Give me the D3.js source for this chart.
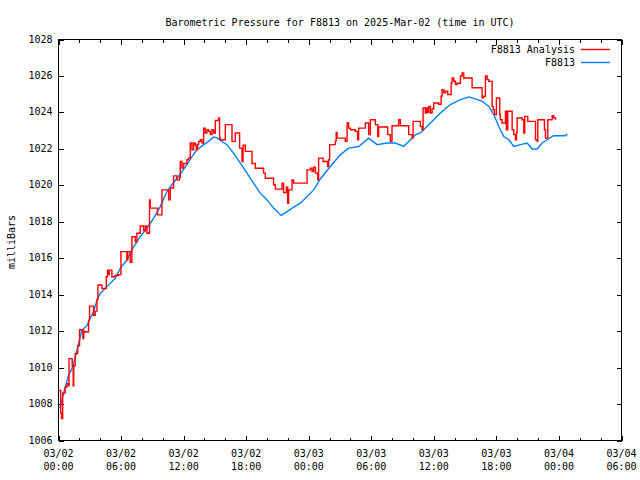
<!DOCTYPE html>
<html>
<head>
<meta charset="utf-8">
<script src="https://cdn.jsdelivr.net/npm/d3@7"></script>
<style>
  html, body { margin: 0; padding: 0; background: #fff; }
  text { font-family: "DejaVu Sans Mono", "Liberation Mono", monospace; font-size: 10px; fill: #000; }
</style>
</head>
<body>
<svg id="chart" width="640" height="480"></svg>
<script>
// ---- data (hours since 2025-03-02 00:00 UTC, millibars) ----
const titleText = "Barometric Pressure for F8813 on 2025-Mar-02 (time in UTC)";
const yLabel = "milliBars";
const seriesNames = ["F8813 Analysis", "F8813"];

const xTickHours = [0, 6, 12, 18, 24, 30, 36, 42, 48, 54];
const xTickDates = ["03/02", "03/02", "03/02", "03/02", "03/03", "03/03", "03/03", "03/03", "03/04", "03/04"];
const xTickTimes = ["00:00", "06:00", "12:00", "18:00", "00:00", "06:00", "12:00", "18:00", "00:00", "06:00"];
const yTicks = [1006, 1008, 1010, 1012, 1014, 1016, 1018, 1020, 1022, 1024, 1026, 1028];

const analysisHours = [0.00,0.21,0.29,0.40,0.64,0.81,0.96,1.01,1.31,1.41,1.46,1.60,1.84,2.02,2.34,2.42,2.56,2.88,2.98,3.36,
  3.52,3.69,3.78,4.17,4.58,4.70,4.82,4.87,5.12,5.44,5.76,5.99,6.56,6.64,6.88,7.04,7.36,7.52,7.84,8.16,
  8.32,8.48,8.73,8.80,9.50,9.92,10.56,10.72,11.04,11.36,11.61,11.68,11.84,12.00,12.32,12.48,12.64,12.80,12.96,13.12,
  13.22,13.34,13.44,13.60,13.76,13.92,14.08,14.24,14.40,14.56,14.72,14.88,15.04,15.36,15.45,15.52,16.00,16.64,16.96,17.37,
  17.60,17.70,17.92,18.56,18.88,19.67,19.84,20.63,20.80,21.44,21.59,21.85,21.98,22.07,22.40,22.55,23.84,24.16,24.32,24.47,
  24.64,24.86,24.95,25.37,25.82,25.91,26.01,26.55,26.63,26.72,27.51,27.68,27.83,27.99,28.47,28.69,28.79,29.43,29.75,29.91,
  30.39,30.62,30.71,31.57,31.83,31.99,32.63,32.79,33.59,33.92,34.01,34.71,34.88,34.97,35.19,35.29,35.41,35.51,35.67,35.83,
  35.99,36.47,36.70,36.79,36.95,37.11,37.33,37.66,37.75,37.91,38.07,38.23,38.55,38.71,38.87,39.67,40.63,40.76,40.95,41.11,
  41.27,41.59,41.69,41.81,42.00,42.32,42.38,42.55,42.87,42.96,43.09,43.51,43.67,43.83,43.93,43.99,44.47,44.63,44.72,45.01,
  45.75,45.91,45.97,46.61,46.71,46.93,47.35,47.51,47.67];
const analysisValues = [1008.75,1007.5,1007.2,1008.6,1008.93,1009.12,1009.0,1010.49,1010.1,1009.0,1010.1,1010.77,1011.2,1012.08,1011.6,1012.0,1011.95,1012.6,1013.37,1012.87,
  1013.1,1013.74,1014.53,1014.34,1014.98,1015.35,1015.1,1015.35,1014.98,1015.05,1015.1,1016.36,1015.9,1016.36,1015.77,1017.18,1016.9,1017.37,1017.77,1017.5,
  1017.77,1017.37,1019.2,1018.75,1018.38,1019.75,1019.2,1019.85,1020.52,1020.3,1020.45,1021.31,1020.95,1021.2,1021.4,1021.49,1022.32,1021.95,1022.32,1022.2,
  1021.95,1022.25,1022.41,1022.5,1022.32,1023.14,1022.87,1023.05,1022.96,1022.78,1023.05,1022.87,1023.56,1023.69,1022.59,1022.5,1023.33,1022.41,1022.87,1022.04,
  1021.3,1022.2,1021.86,1021.2,1020.94,1020.67,1020.39,1020.03,1019.79,1020.12,1019.6,1019.9,1019.02,1019.75,1020.3,1020.12,1020.85,1020.94,1020.75,1021.0,
  1020.67,1020.3,1021.49,1021.31,1021.03,1021.4,1022.23,1022.41,1022.9,1022.59,1022.41,1023.42,1023.14,1023.05,1022.96,1022.5,1023.14,1023.42,1022.78,1023.6,
  1023.33,1022.68,1023.2,1022.78,1022.41,1023.27,1023.6,1023.27,1022.78,1022.59,1023.51,1023.23,1023.05,1024.24,1023.97,1024.24,1024.0,1024.33,1023.97,1024.2,
  1024.52,1024.45,1024.89,1025.25,1025.07,1025.16,1024.98,1025.62,1025.89,1025.71,1025.53,1025.6,1026.0,1026.17,1025.89,1025.35,1024.8,1024.89,1026.0,1025.8,
  1025.7,1024.33,1024.15,1023.88,1024.79,1023.88,1023.6,1023.42,1024.06,1023.05,1024.06,1023.05,1022.78,1022.5,1022.9,1023.69,1023.6,1022.87,1023.78,1023.51,
  1022.5,1022.41,1023.6,1023.05,1022.59,1023.6,1023.82,1023.69,1023.6];

const stationHours = [0.00,0.16,0.48,0.96,1.29,1.61,1.92,2.25,2.73,3.04,3.36,3.69,4.00,4.48,4.96,5.44,5.92,6.56,7.04,7.84,
  8.48,9.12,9.76,10.40,10.88,11.36,11.84,12.32,12.80,13.28,13.92,14.40,14.88,15.20,15.52,16.16,16.79,17.44,18.08,18.71,
  19.35,20.00,20.63,21.37,21.92,22.55,23.20,23.84,24.47,25.11,26.07,27.03,27.83,28.79,29.75,30.56,31.52,32.31,33.11,33.76,
  34.24,34.71,35.67,36.63,37.59,38.55,39.35,39.99,40.63,41.27,41.75,42.23,42.71,43.19,43.67,44.31,44.95,45.43,45.91,46.39,
  46.87,47.35,47.51,48.63,48.79];
const stationValues = [1007.83,1007.8,1008.57,1009.58,1009.94,1010.58,1011.3,1012.05,1012.3,1012.7,1013.06,1013.7,1014.07,1014.34,1014.62,1014.9,1015.44,1015.9,1016.47,1017.18,
  1017.64,1018.19,1018.83,1019.66,1020.03,1020.39,1020.76,1021.13,1021.58,1021.95,1022.23,1022.41,1022.65,1022.6,1022.47,1022.23,1021.77,1021.22,1020.67,1020.12,
  1019.57,1019.2,1018.75,1018.35,1018.56,1018.8,1019.02,1019.38,1019.75,1020.35,1021.03,1021.67,1022.04,1022.13,1022.59,1022.23,1022.32,1022.32,1022.13,1022.5,
  1022.78,1022.87,1023.42,1023.97,1024.43,1024.7,1024.85,1024.74,1024.61,1024.33,1023.88,1023.23,1022.68,1022.5,1022.13,1022.23,1022.32,1021.99,1021.99,1022.32,
  1022.5,1022.68,1022.72,1022.72,1022.83];

const seriesColors = ["#ff0000", "#0080ff"];

// ---- drawing ----
const svg = d3.select("#chart");
const L = 58.5, R = 621.5, T = 39.5, B = 440.5;

const x = d3.scaleLinear().domain([0, 54]).range([L, R]);
const y = d3.scaleLinear().domain([1006, 1028]).range([B, T]);

// title
svg.append("text").attr("x", (L + R) / 2).attr("y", 23).attr("text-anchor", "middle")
  .attr("dominant-baseline", "middle").text(titleText);

// y label
svg.append("text").attr("transform", "translate(12,242) rotate(-90)")
  .attr("text-anchor", "middle").attr("dominant-baseline", "middle").text(yLabel);

// axes with inward ticks
const minorHours = d3.range(0, 55, 2).filter(h => h % 6 !== 0);
function tickGroup(axis, tx, ty) {
  const g = svg.append("g").attr("transform", `translate(${tx},${ty})`).call(axis);
  g.select(".domain").remove();
  g.selectAll("line").attr("stroke", "#000").attr("shape-rendering", "crispEdges");
  g.selectAll("text").remove();
  return g;
}
tickGroup(d3.axisBottom(x).tickValues(xTickHours).tickSize(-5).tickSizeOuter(0), 0, B);
tickGroup(d3.axisBottom(x).tickValues(minorHours).tickSize(-3).tickSizeOuter(0), 0, B);
tickGroup(d3.axisTop(x).tickValues(xTickHours).tickSize(-5).tickSizeOuter(0), 0, T);
tickGroup(d3.axisTop(x).tickValues(minorHours).tickSize(-3).tickSizeOuter(0), 0, T);
tickGroup(d3.axisLeft(y).tickValues(yTicks).tickSize(-5).tickSizeOuter(0), L, 0);
tickGroup(d3.axisRight(y).tickValues(yTicks).tickSize(-5).tickSizeOuter(0), R, 0);

// y tick labels
svg.append("g").selectAll("text").data(yTicks).join("text")
  .attr("x", L - 6).attr("y", d => y(d)).attr("text-anchor", "end")
  .attr("dominant-baseline", "middle").text(d => d);

// x tick labels (two lines)
const xl = svg.append("g").selectAll("g").data(xTickHours).join("g")
  .attr("transform", d => `translate(${x(d)},0)`);
xl.append("text").attr("y", 454).attr("text-anchor", "middle").attr("dominant-baseline", "middle")
  .text((d, i) => xTickDates[i]);
xl.append("text").attr("y", 467).attr("text-anchor", "middle").attr("dominant-baseline", "middle")
  .text((d, i) => xTickTimes[i]);

// frame
svg.append("rect").attr("x", L).attr("y", T).attr("width", R - L).attr("height", B - T)
  .attr("fill", "none").attr("stroke", "#000").attr("shape-rendering", "crispEdges");

// series
const analysis = analysisHours.map((h, i) => [h, analysisValues[i]]);
const station = stationHours.map((h, i) => [h, stationValues[i]]);

const stepLine = d3.line().x(d => x(d[0])).y(d => y(d[1])).curve(d3.curveStepAfter);
const plainLine = d3.line().x(d => x(d[0])).y(d => y(d[1]));

svg.append("path").datum(station).attr("d", plainLine)
  .attr("fill", "none").attr("stroke", seriesColors[1]).attr("stroke-width", 1.4);
svg.append("path").datum(analysis).attr("d", stepLine)
  .attr("fill", "none").attr("stroke", seriesColors[0]).attr("stroke-width", 1.4);

// legend
const legY = [49.5, 62.5];
seriesNames.forEach((name, i) => {
  svg.append("text").attr("x", 575).attr("y", legY[i]).attr("text-anchor", "end")
    .attr("dominant-baseline", "middle").text(name);
  svg.append("line").attr("x1", 581).attr("x2", 610).attr("y1", legY[i]).attr("y2", legY[i])
    .attr("stroke", seriesColors[i]).attr("stroke-width", 1.4);
});
</script>
</body>
</html>
